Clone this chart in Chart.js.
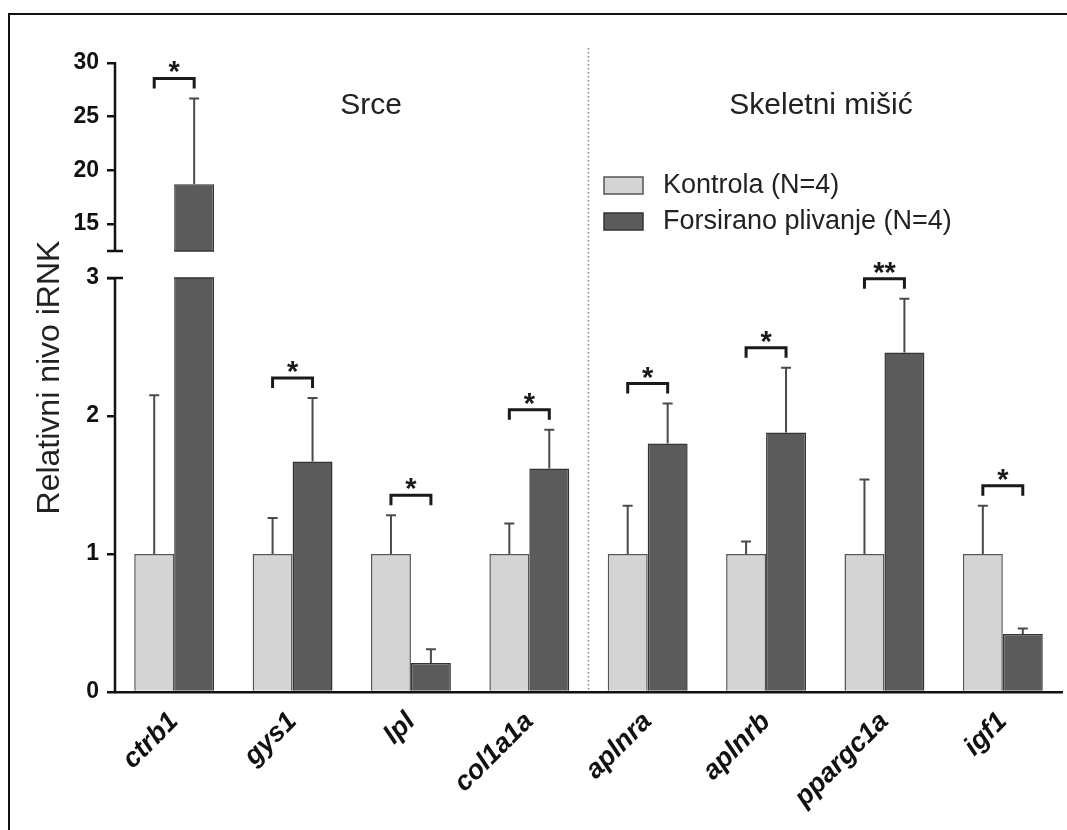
<!doctype html>
<html lang="sr">
<head>
<meta charset="utf-8">
<title>Relativni nivo iRNK</title>
<style>
  * { margin: 0; padding: 0; }
  body { background: #fff; }
  #chart { display: block; }
</style>
</head>
<body>
<canvas id="chart" width="1067" height="830"></canvas>
<script src="https://cdn.jsdelivr.net/npm/chart.js"></script>
<script>
// data
const genes = ['ctrb1', 'gys1', 'lpl', 'col1a1a', 'aplnra', 'aplnrb', 'ppargc1a', 'igf1'];
const kontrolaMean = [1, 1, 1, 1, 1, 1, 1, 1];
const kontrolaSD = [1.15, 0.26, 0.28, 0.22, 0.35, 0.09, 0.54, 0.35];
const plivanjeMean = [18.7, 1.67, 0.21, 1.62, 1.80, 1.88, 2.46, 0.42];
const plivanjeSD = [8.0, 0.46, 0.10, 0.28, 0.29, 0.47, 0.39, 0.04];
const significance = ['*', '*', '*', '*', '*', '*', '**', '*'];
const yTicks = [0, 1, 2, 3, 15, 20, 25, 30];
const seriesLabels = ['Kontrola (N=4)', 'Forsirano plivanje (N=4)'];
const groupTitles = ['Srce', 'Skeletni mišić'];

// broken y axis: 0-3 normal, a gap, then 12.5-30 squeezed
const BREAK_LOW = 3, BREAK_HIGH = 12.5, GAP = 0.196, UPPER_SCALE = 0.0778;
function toAxis(v) {
  if (v <= BREAK_LOW) return v;
  return BREAK_LOW + GAP + (v - BREAK_HIGH) * UPPER_SCALE;
}

const FONT = "'Liberation Sans', Arial, sans-serif";
const LIGHT = '#d4d4d4', DARK = '#5b5b5b';

const decor = {
  id: 'decor',
  beforeDraw(chart) {
    const ctx = chart.ctx;
    ctx.save();
    ctx.fillStyle = '#fff';
    ctx.fillRect(0, 0, chart.width, chart.height);
    // picture frame (top and left edge)
    ctx.strokeStyle = '#111';
    ctx.lineWidth = 2;
    ctx.beginPath();
    ctx.moveTo(9, chart.height);
    ctx.lineTo(9, 14);
    ctx.lineTo(chart.width, 14);
    ctx.stroke();
    ctx.restore();
  },
  afterDatasetsDraw(chart) {
    const {ctx, chartArea, scales: {x, y}} = chart;
    const yLow = y.getPixelForValue(BREAK_LOW);
    const yHigh = y.getPixelForValue(BREAK_LOW + GAP);
    ctx.save();

    // cut the bars at the break
    ctx.fillStyle = '#fff';
    ctx.fillRect(chartArea.left, yHigh, chartArea.right - chartArea.left, yLow - yHigh);
    chart.data.datasets.forEach((ds, di) => {
      chart.getDatasetMeta(di).data.forEach(bar => {
        if (bar.y < yHigh) {
          ctx.strokeStyle = ds.borderColor;
          ctx.lineWidth = 1.5;
          ctx.beginPath();
          ctx.moveTo(bar.x - bar.width / 2, yLow); ctx.lineTo(bar.x + bar.width / 2, yLow);
          ctx.moveTo(bar.x - bar.width / 2, yHigh); ctx.lineTo(bar.x + bar.width / 2, yHigh);
          ctx.stroke();
        }
      });
    });

    // error bars (upper only)
    const means = [kontrolaMean, plivanjeMean];
    const sds = [kontrolaSD, plivanjeSD];
    const tops = genes.map(() => Infinity);
    [0, 1].forEach(di => {
      chart.getDatasetMeta(di).data.forEach((bar, i) => {
        const top = y.getPixelForValue(toAxis(means[di][i] + sds[di][i]));
        tops[i] = Math.min(tops[i], top);
        ctx.strokeStyle = '#4a4a4a';
        ctx.lineWidth = 2;
        ctx.beginPath();
        ctx.moveTo(bar.x, bar.y);
        ctx.lineTo(bar.x, top);
        ctx.moveTo(bar.x - 5, top);
        ctx.lineTo(bar.x + 5, top);
        ctx.stroke();
      });
    });

    // y axis line with break caps
    const ax = chartArea.left;
    ctx.strokeStyle = '#111';
    ctx.lineWidth = 2.5;
    ctx.beginPath();
    ctx.moveTo(ax, chartArea.bottom + 1);
    ctx.lineTo(ax, yLow);
    ctx.moveTo(ax - 8, yLow); ctx.lineTo(ax + 8, yLow);
    ctx.moveTo(ax - 8, yHigh); ctx.lineTo(ax + 8, yHigh);
    ctx.moveTo(ax, yHigh);
    ctx.lineTo(ax, chartArea.top - 1);
    ctx.stroke();

    // dotted divider between heart and muscle
    const xd = (x.getPixelForValue(3) + x.getPixelForValue(4)) / 2;
    ctx.strokeStyle = '#888';
    ctx.lineWidth = 1.5;
    ctx.setLineDash([1.5, 2.5]);
    ctx.beginPath();
    ctx.moveTo(xd, chartArea.top - 15);
    ctx.lineTo(xd, chartArea.bottom);
    ctx.stroke();
    ctx.setLineDash([]);

    // significance brackets
    const m0 = chart.getDatasetMeta(0).data, m1 = chart.getDatasetMeta(1).data;
    ctx.strokeStyle = '#1a1a1a';
    ctx.fillStyle = '#1a1a1a';
    ctx.lineWidth = 3;
    ctx.font = 'bold 29px ' + FONT;
    ctx.textAlign = 'center';
    ctx.textBaseline = 'alphabetic';
    genes.forEach((g, i) => {
      const top = tops[i] - 20;
      const lx = m0[i].x, rx = m1[i].x;
      ctx.beginPath();
      ctx.moveTo(lx, top + 10);
      ctx.lineTo(lx, top);
      ctx.lineTo(rx, top);
      ctx.lineTo(rx, top + 10);
      ctx.stroke();
      ctx.fillText(significance[i], (lx + rx) / 2, top + 3);
    });

    // group titles
    ctx.fillStyle = '#222';
    ctx.font = '30px ' + FONT;
    ctx.textBaseline = 'middle';
    ctx.fillText(groupTitles[0], 371, 106);
    ctx.fillText(groupTitles[1], 821, 106);

    // legend
    ctx.textAlign = 'left';
    ctx.font = '27px ' + FONT;
    chart.data.datasets.forEach((ds, di) => {
      const by = 177 + di * 36;
      ctx.fillStyle = ds.backgroundColor;
      ctx.fillRect(604, by, 39, 17);
      ctx.strokeStyle = ds.borderColor;
      ctx.lineWidth = 1.5;
      ctx.strokeRect(604, by, 39, 17);
      ctx.fillStyle = '#222';
      ctx.fillText(ds.label, 663, by + 9);
    });
    ctx.restore();
  }
};

new Chart(document.getElementById('chart'), {
  type: 'bar',
  data: {
    labels: genes,
    datasets: [
      {
        label: seriesLabels[0],
        data: kontrolaMean.map(toAxis),
        backgroundColor: LIGHT,
        borderColor: '#555',
        borderWidth: 1.5,
        borderSkipped: 'bottom'
      },
      {
        label: seriesLabels[1],
        data: plivanjeMean.map(toAxis),
        backgroundColor: DARK,
        borderColor: '#333',
        borderWidth: 1.5,
        borderSkipped: 'bottom'
      }
    ]
  },
  options: {
    responsive: false,
    animation: false,
    categoryPercentage: 0.675,
    barPercentage: 1,
    layout: { padding: { left: 12, right: 5, top: 63, bottom: 18 } },
    plugins: {
      legend: { display: false },
      tooltip: { enabled: false }
    },
    scales: {
      x: {
        grid: { display: false },
        border: { display: true, color: '#111', width: 2.5 },
        ticks: {
          autoSkip: false,
          maxRotation: 45,
          minRotation: 45,
          padding: 6,
          color: '#111',
          font: { family: FONT, size: 27, weight: 'bold', style: 'italic' }
        },
        afterFit(scale) { scale.height = 120; }
      },
      y: {
        min: 0,
        max: toAxis(30),
        border: { display: false },
        grid: {
          drawOnChartArea: false,
          drawTicks: true,
          tickLength: 8,
          color: '#111',
          lineWidth: 2.5
        },
        afterBuildTicks(scale) {
          scale.ticks = yTicks.map(v => ({ value: toAxis(v) }));
        },
        ticks: {
          padding: 8,
          color: '#111',
          font: { family: FONT, size: 23, weight: 'bold' },
          callback: (value, index) => String(yTicks[index])
        },
        title: {
          display: true,
          text: 'Relativni nivo iRNK',
          color: '#222',
          font: { family: FONT, size: 32 },
          padding: { top: 19, bottom: 0 }
        },
        afterFit(scale) { scale.width = 103; }
      }
    }
  },
  plugins: [decor]
});
</script>
</body>
</html>
